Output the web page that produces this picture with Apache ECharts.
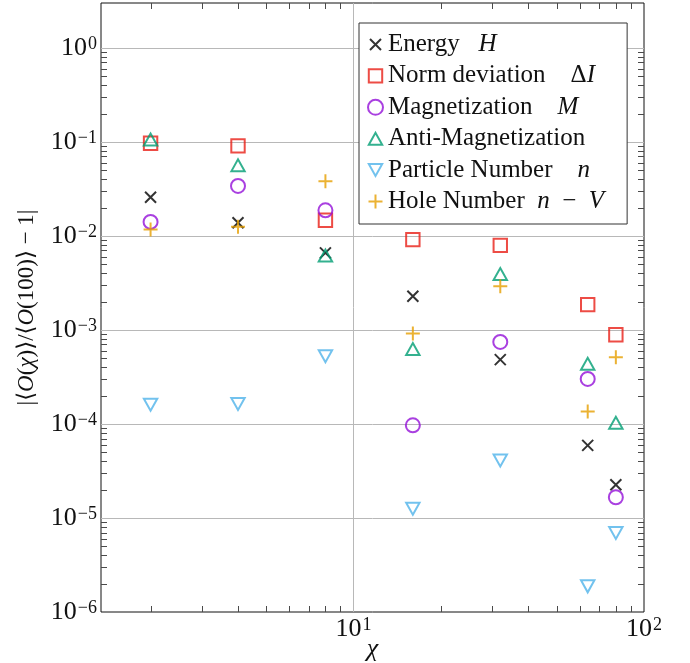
<!DOCTYPE html>
<html>
<head>
<meta charset="utf-8">
<script src="https://cdn.jsdelivr.net/npm/echarts@6/dist/echarts.min.js"></script>
<style>
  html, body { margin: 0; padding: 0; background: #fff; }
  #chart { width: 690px; height: 663px; }
</style>
</head>
<body>
<div id="chart"></div>
<script>
// Bond dimension values
const chi = [2, 4, 8, 16, 32, 64, 80];

// Relative deviation |<O(chi)>/<O(100)> - 1| for each observable
const energy       = [0.0258, 0.0138, 0.0066, 0.00228, 0.000483, 0.0000592, 0.0000226];
const normDev      = [0.0966, 0.0906, 0.0147, 0.00914, 0.00794, 0.00186, 0.00089];
const magnetization= [0.0141, 0.0340, 0.0187, 0.0000966, 0.000745, 0.000301, 0.0000166];
const antiMag      = [0.106, 0.0564, 0.0062, 0.000628, 0.00394, 0.000438, 0.000103];
const particleNum  = [0.000160, 0.000163, 0.000524, 0.0000125, 0.0000407, 0.00000187, 0.00000692];
const holeNum      = [0.0117, 0.0125, 0.0381, 0.000914, 0.00291, 0.000136, 0.000511];

const seriesNames = ['Energy', 'Norm deviation', 'Magnetization', 'Anti-Magnetization', 'Particle Number', 'Hole Number'];
const legendLabels = [
  'Energy   {m|H}',
  'Norm deviation    \u0394{m|I}',
  'Magnetization    {m|M}',
  'Anti-Magnetization',
  'Particle Number    {m|n}',
  'Hole Number  {m|n}\u2002\u2212\u2002{m|V}'
];

// Axis ranges
const X_MIN = 1.35, X_MAX = 100;
const Y_MIN = 1e-6, Y_MAX = 3;

// Minor tick positions (2..9 within each decade)
const mantissas = [2, 3, 4, 5, 6, 7, 8, 9];
const xDecades = [1, 10];
const yDecades = [1e-6, 1e-5, 1e-4, 1e-3, 1e-2, 1e-1];

const minorX = xDecades.flatMap(d => mantissas.map(m => m * d));
const minorY = yDecades.flatMap(d => mantissas.map(m => +(m * d).toPrecision(3)));

const SERIF = '"Liberation Serif", "DejaVu Serif", serif';

// Marker shapes (padded paths keep a common 15x15 box)
const SYM_CROSS = 'path://M0,0M2,2L13,13M13,2L2,13M15,15';
const SYM_PLUS  = 'path://M0,0M7.5,0.5L7.5,14.5M0.5,7.5L14.5,7.5M15,15';
const SYM_SQUARE = 'path://M0,0M0.8,0.8L14.2,0.8L14.2,14.2L0.8,14.2Z M15,15';
const SYM_TRI_UP = 'path://M0,0M0.8,13.6L7.5,1.6L14.2,13.6Z M15,15';
const SYM_TRI_DOWN = 'path://M0,0M0.8,1.4L14.2,1.4L7.5,13.4Z M15,15';

const styles = [
  { symbol: SYM_CROSS,   color: '#000000' },
  { symbol: SYM_SQUARE,  color: '#e81f17' },
  { symbol: 'circle',    color: '#9410d8', size: 14 },
  { symbol: SYM_TRI_UP,  color: '#009e73' },
  { symbol: SYM_TRI_DOWN,color: '#4fb3ea' },
  { symbol: SYM_PLUS,    color: '#e69f00' }
];
const values = [energy, normDev, magnetization, antiMag, particleNum, holeNum];

function pow10Label(v) {
  const e = Math.log10(v);
  const r = Math.round(e);
  if (Math.abs(e - r) > 1e-6) return '';
  const exp = r < 0 ? '\u2212' + (-r) : String(r);
  return '{b|10}{s|' + exp + '}';
}

const tickRich = {
  b: { fontFamily: SERIF, fontSize: 26, color: '#111' },
  s: { fontFamily: SERIF, fontSize: 18, color: '#111', verticalAlign: 'top', padding: [0, 0, 0, 1] }
};

const scatterSeries = seriesNames.map((name, i) => ({
  name: name,
  type: 'scatter',
  symbol: styles[i].symbol,
  symbolSize: styles[i].size || 15,
  data: chi.map((c, j) => [c, values[i][j]]),
  itemStyle: { color: 'rgba(0,0,0,0)', borderColor: styles[i].color, borderWidth: 2 },
  emphasis: { disabled: true },
  z: 5
}));

const TICK_LEN = 6;
const TICK_STYLE = { stroke: '#4a4a4a', lineWidth: 1 };
const crisp = v => Math.round(v) + 0.5;

const minorXSeries = {
  type: 'custom',
  silent: true,
  z: 4,
  data: minorX.map(v => [v, Y_MIN]),
  renderItem: function (params, api) {
    const v = api.value(0);
    const a = api.coord([v, Y_MIN]);
    const b = api.coord([v, Y_MAX]);
    const x = crisp(a[0]);
    return {
      type: 'group',
      children: [
        { type: 'line', shape: { x1: x, y1: a[1], x2: x, y2: a[1] - TICK_LEN }, style: TICK_STYLE },
        { type: 'line', shape: { x1: x, y1: b[1], x2: x, y2: b[1] + TICK_LEN }, style: TICK_STYLE }
      ]
    };
  }
};

const minorYSeries = {
  type: 'custom',
  silent: true,
  z: 4,
  data: minorY.map(v => [X_MIN, v]),
  renderItem: function (params, api) {
    const v = api.value(1);
    const a = api.coord([X_MIN, v]);
    const b = api.coord([X_MAX, v]);
    const y = crisp(a[1]);
    return {
      type: 'group',
      children: [
        { type: 'line', shape: { x1: a[0], y1: y, x2: a[0] + TICK_LEN, y2: y }, style: TICK_STYLE },
        { type: 'line', shape: { x1: b[0], y1: y, x2: b[0] - TICK_LEN, y2: y }, style: TICK_STYLE }
      ]
    };
  }
};

const chart = echarts.init(document.getElementById('chart'), null, { renderer: 'canvas' });

chart.setOption({
  animation: false,
  backgroundColor: '#ffffff',
  grid: {
    left: 101, right: 46, top: 3, bottom: 51,
    outerBoundsMode: 'none',
    containLabel: false,
    show: true, borderColor: '#111111', borderWidth: 1, backgroundColor: 'transparent'
  },
  xAxis: {
    type: 'log',
    min: X_MIN, max: X_MAX,
    name: '\u03c7',
    nameLocation: 'middle',
    nameGap: 24,
    nameMoveOverlap: false,
    nameTextStyle: { fontFamily: SERIF, fontSize: 26, fontStyle: 'italic', color: '#111' },
    axisLine: { show: false },
    axisTick: { show: false },
    axisLabel: { formatter: pow10Label, rich: tickRich, margin: 4 },
    splitLine: { show: true, showMinLine: false, showMaxLine: false, lineStyle: { color: '#b8b8b8', width: 1 } }
  },
  yAxis: {
    type: 'log',
    min: Y_MIN, max: Y_MAX,
    name: '|\u27e8{i|O}({i|\u03c7})\u27e9/\u27e8{i|O}(100)\u27e9 \u2212 1|',
    nameLocation: 'middle',
    nameGap: 63,
    nameMoveOverlap: false,
    nameTextStyle: {
      fontFamily: SERIF, fontSize: 23, color: '#111',
      rich: { i: { fontFamily: SERIF, fontSize: 23, fontStyle: 'italic', color: '#111' } }
    },
    axisLine: { show: false },
    axisTick: { show: false },
    axisLabel: { formatter: pow10Label, rich: tickRich, margin: 4 },
    splitLine: { show: true, showMinLine: false, showMaxLine: false, lineStyle: { color: '#b8b8b8', width: 1 } }
  },
  legend: {
    data: seriesNames,
    orient: 'vertical',
    left: 359,
    top: 23,
    padding: [9, 23, 10, 8],
    itemGap: 6.4,
    itemWidth: 15,
    itemHeight: 15,
    backgroundColor: '#ffffff',
    borderColor: '#333333',
    borderWidth: 1,
    borderRadius: 0,
    selectedMode: false,
    formatter: name => legendLabels[seriesNames.indexOf(name)],
    textStyle: {
      fontFamily: SERIF, fontSize: 25, color: '#111', lineHeight: 22,
      rich: { m: { fontFamily: SERIF, fontSize: 25, fontStyle: 'italic', color: '#111', lineHeight: 22 } }
    }
  },
  series: scatterSeries.concat([minorXSeries, minorYSeries])
});
</script>
</body>
</html>
